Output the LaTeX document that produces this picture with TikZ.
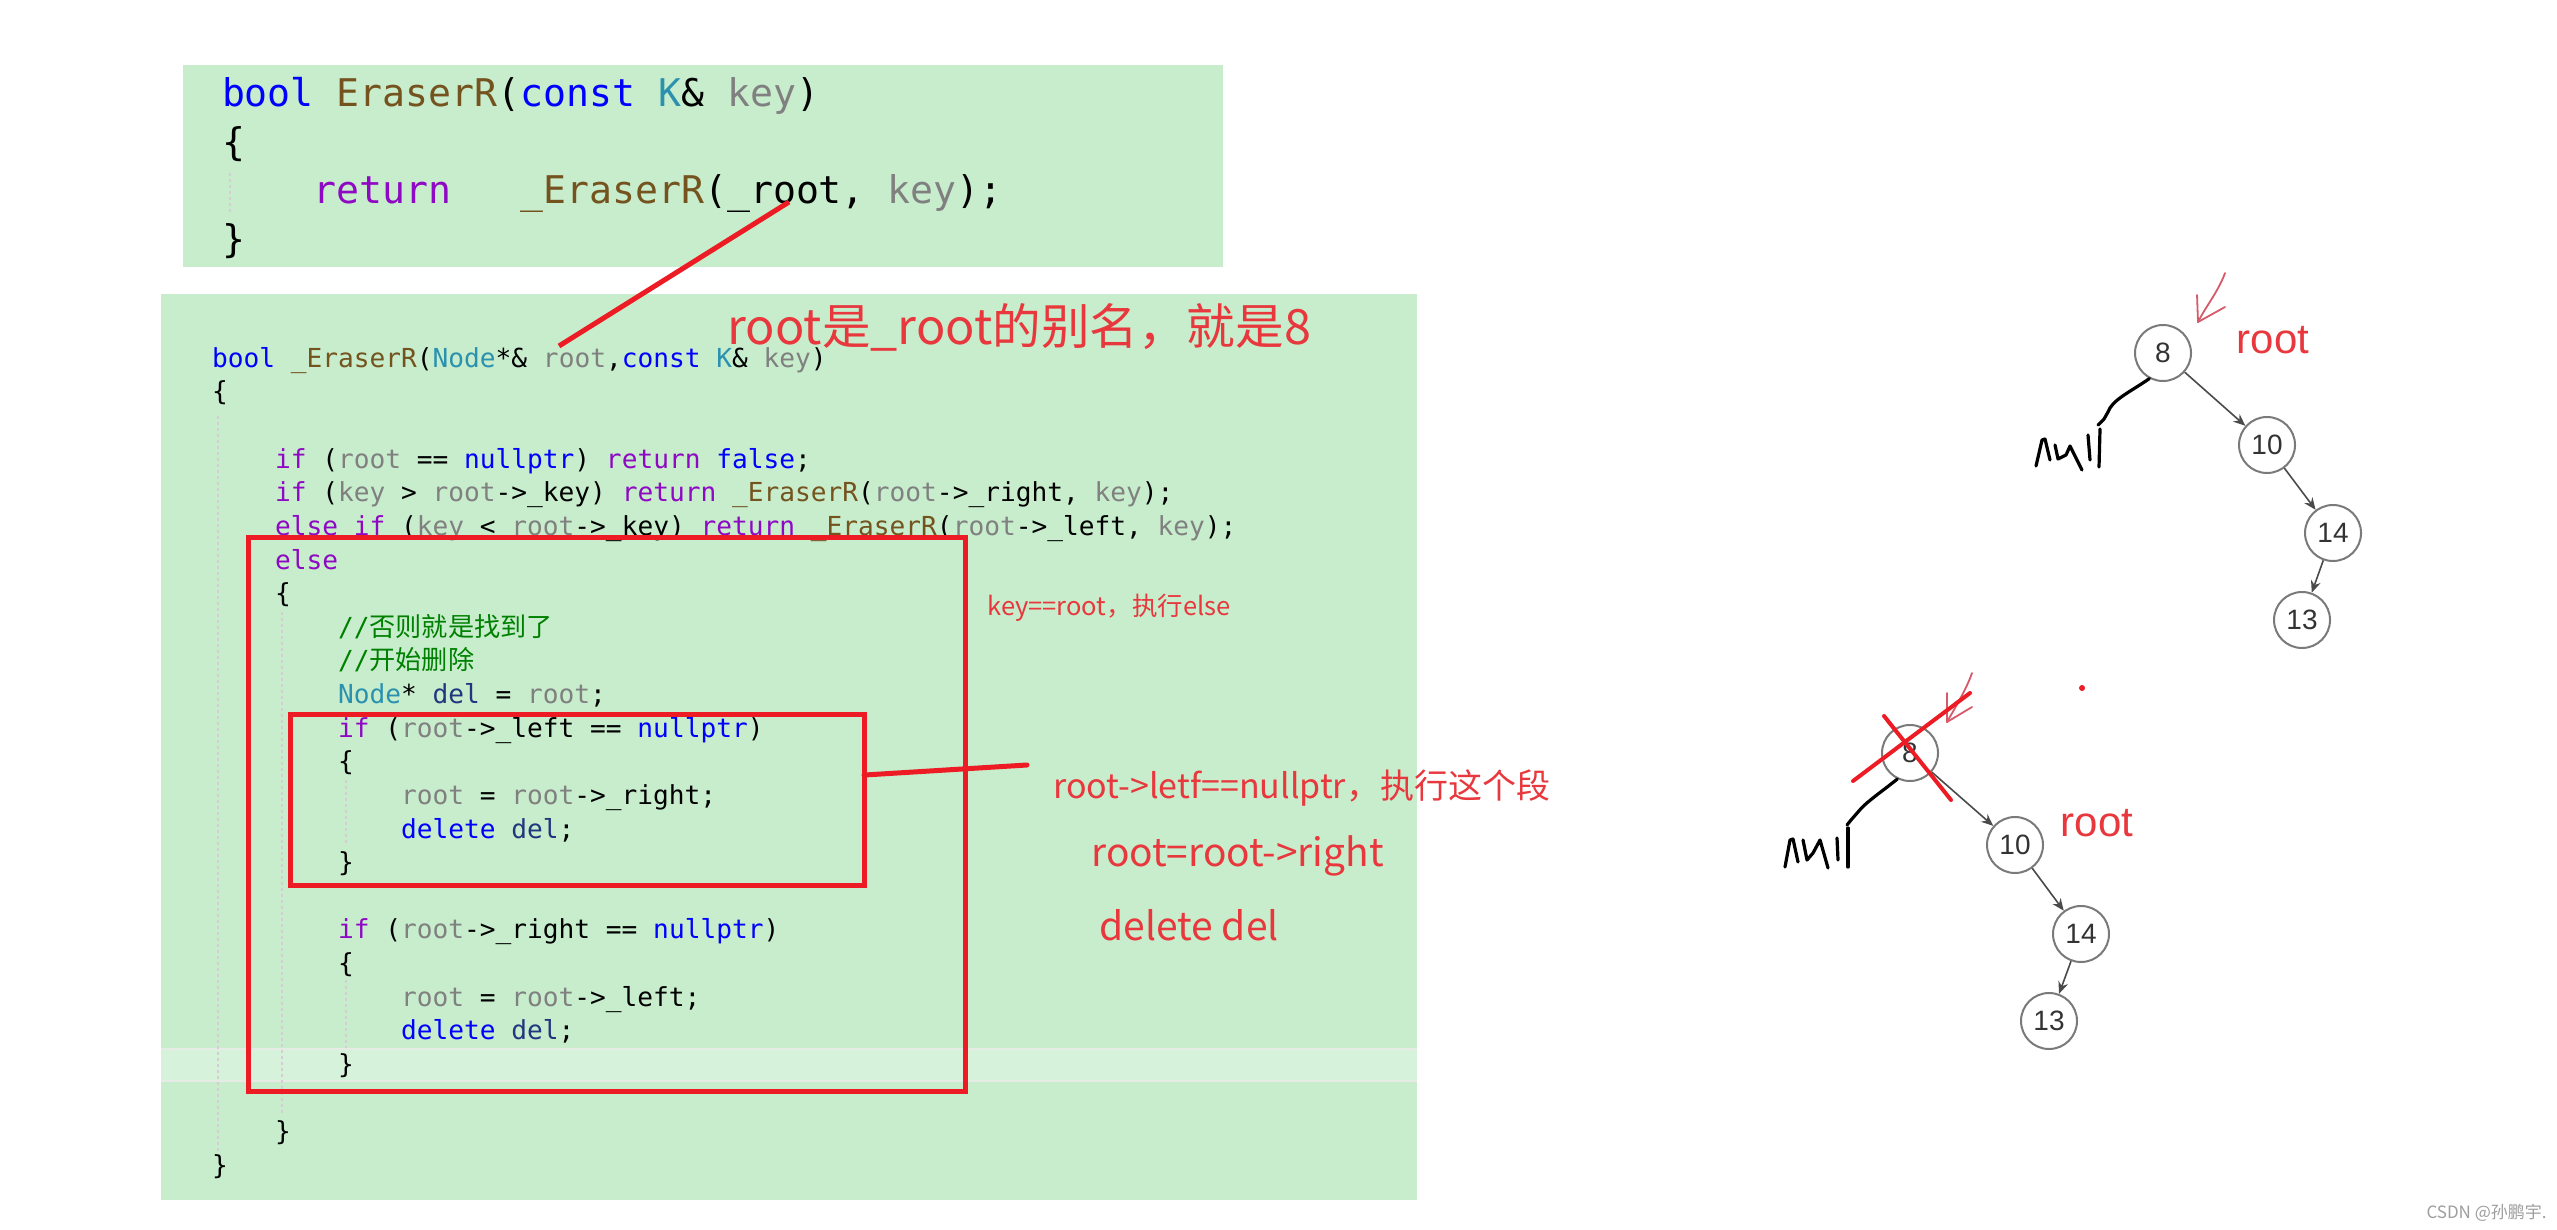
\documentclass[tikz,border=0pt]{standalone}
\usepackage{fontspec}
\usetikzlibrary{arrows.meta,calc}
\newfontfamily\codefont{DejaVu Sans Mono}
\newfontfamily\cjk{Noto Sans CJK SC}
\newfontfamily\tfont{Liberation Sans}
\definecolor{bgG}{HTML}{C7EDCC}
\definecolor{hlG}{HTML}{D6F2DA}
\definecolor{hlB}{HTML}{E6EBE6}
\definecolor{rd}{HTML}{ED1C24}
\definecolor{rtxt}{HTML}{E8383D}
\definecolor{pinkA}{HTML}{D75A6A}
\definecolor{kwB}{HTML}{0000FF}
\definecolor{fnC}{HTML}{74531F}
\definecolor{tyC}{HTML}{2B91AF}
\definecolor{prC}{HTML}{808080}
\definecolor{ctlC}{HTML}{8F08C4}
\definecolor{cmC}{HTML}{008000}
\definecolor{lvC}{HTML}{1F377F}
\definecolor{guideC}{HTML}{D6CCD6}
\definecolor{nodeG}{HTML}{7A7A7A}
\definecolor{numC}{HTML}{333333}
\definecolor{edgeC}{HTML}{4A4A4A}
\newcommand\ckw[1]{\textcolor{kwB}{#1}}
\newcommand\cfn[1]{\textcolor{fnC}{#1}}
\newcommand\cty[1]{\textcolor{tyC}{#1}}
\newcommand\cpr[1]{\textcolor{prC}{#1}}
\newcommand\cct[1]{\textcolor{ctlC}{#1}}
\newcommand\ccm[1]{\textcolor{cmC}{#1}}
\newcommand\clv[1]{\textcolor{lvC}{#1}}
\tikzset{
  codeln/.style={anchor=base west, inner sep=0pt, outer sep=0pt, font=\codefont\fontsize{13.09pt}{15pt}\selectfont},
  topln/.style={anchor=base west, inner sep=0pt, outer sep=0pt, font=\codefont\fontsize{19.07pt}{22pt}\selectfont},
  guide/.style={draw=guideC, line width=0.7pt, dash pattern=on 1.5pt off 1.5pt},
  redbox/.style={draw=rd, line width=2.5pt, inner sep=0pt, outer sep=0pt},
  redline/.style={draw=rd, line width=2.5pt},
  note/.style={anchor=west, inner sep=0pt, text=rtxt},
  tnode/.style={circle, draw=nodeG, line width=1pt, fill=white, minimum size=28pt, inner sep=0pt, font=\tfont\fontsize{14pt}{16pt}\selectfont, text=numC},
  tedge/.style={draw=edgeC, line width=0.8pt, -{Stealth[length=6pt,width=5pt]}},
  hand/.style={draw=black, line width=1.6pt, line cap=round, line join=round},
  pinkarrow/.style={draw=pinkA, line width=0.9pt, line cap=round, line join=round},
  rootlbl/.style={inner sep=0pt, text=rtxt, font=\tfont\fontsize{21pt}{24pt}\selectfont},
}
\begin{document}
\begin{tikzpicture}[x=0.5pt,y=-0.5pt]
\useasboundingbox (0,0) rectangle (2557,1230);
\fill[white] (0,0) rectangle (2557,1230);
% ---------- top code box ----------
\fill[bgG] (183,65) rectangle (1223,267);
\draw[guide] (230,173) -- (230,213);
\node[topln] (t0) at (222,107) {\ckw{bool} \cfn{EraserR}(\ckw{const} \cty{K}\& \cpr{key})};
\node[topln] (t1) at (222,155.4) {\{};
\node[topln] (t2) at (313.8,203.8) {\cct{return}~~~\cfn{\_EraserR}(\_root, \cpr{key});};
\node[topln] (t3) at (222,252.2) {\}};
% ---------- main code box ----------
\fill[bgG] (161,294) rectangle (1417,1200);
\fill[hlG] (161,1049) rectangle (1417,1081);
\draw[hlB, line width=1pt] (161,1049) -- (1417,1049);
\draw[hlB, line width=1pt] (161,1081) -- (1417,1081);
\draw[guide] (218,416) -- (218,1151);
\draw[guide] (282,612) -- (282,1115);
\draw[guide] (346,780) -- (346,846);
\draw[guide] (346,980) -- (346,1048);
\node[codeln] (c0) at (212,367.2) {\ckw{bool} \cfn{\_EraserR}(\cty{Node}*\& \cpr{root},\ckw{const} \cty{K}\& \cpr{key})};
\node[codeln] (c1) at (212,400.8) {\{};
\node[codeln] (c3) at (275,468.1) {\cct{if} (\cpr{root} == \ckw{nullptr}) \cct{return} \ckw{false};};
\node[codeln] (c4) at (275,501.7) {\cct{if} (\cpr{key} > \cpr{root}->\_key) \cct{return} \cfn{\_EraserR}(\cpr{root}->\_right, \cpr{key});};
\node[codeln] (c5) at (275,535.3) {\cct{else if} (\cpr{key} < \cpr{root}->\_key) \cct{return} \cfn{\_EraserR}(\cpr{root}->\_left, \cpr{key});};
\node[codeln] (c6) at (275,569.0) {\cct{else}};
\node[codeln] (c7) at (275,602.6) {\{};
\node[codeln] (c8) at (338,636.2) {\ccm{//{\cjk 否则就是找到了}}};
\node[codeln] (c9) at (338,669.8) {\ccm{//{\cjk 开始删除}}};
\node[codeln] (c10) at (338,703.5) {\cty{Node}* \clv{del} = \cpr{root};};
\node[codeln] (c11) at (338,737.1) {\cct{if} (\cpr{root}->\_left == \ckw{nullptr})};
\node[codeln] (c12) at (338,770.8) {\{};
\node[codeln] (c13) at (401,804.4) {\cpr{root} = \cpr{root}->\_right;};
\node[codeln] (c14) at (401,838.0) {\ckw{delete} \clv{del};};
\node[codeln] (c15) at (338,871.7) {\}};
\node[codeln] (c17) at (338,938.9) {\cct{if} (\cpr{root}->\_right == \ckw{nullptr})};
\node[codeln] (c18) at (338,972.5) {\{};
\node[codeln] (c19) at (401,1006.2) {\cpr{root} = \cpr{root}->\_left;};
\node[codeln] (c20) at (401,1039.8) {\ckw{delete} \clv{del};};
\node[codeln] (c21) at (338,1073.4) {\}};
\node[codeln] (c23) at (275,1140.7) {\}};
\node[codeln] (c24) at (212,1174.3) {\}};
% ---------- red annotations ----------
\node[redbox, minimum width=358.5pt, minimum height=277pt] (outer) at (606.5,814) {};
\node[redbox, minimum width=287pt, minimum height=85.5pt] (inner) at (577,799.5) {};
\coordinate (rootA) at (789,202);
\coordinate (rootB) at (559,346);
\draw[redline] (rootA) -- (rootB);
\coordinate (lineEnd) at (1027,765);
\draw[redline, line cap=round] ($(inner.north east)!0.357!(inner.south east)$) -- (lineEnd);
\node[note, font=\cjk\fontsize{24.3pt}{30pt}\selectfont] (alias) at (727,327) {root是\_root的别名，就是8};
\node[note, font=\cjk\fontsize{12.75pt}{15pt}\selectfont] (keyeq) at (987,608) {key==root，执行else};
\node[note, font=\cjk\fontsize{17.0pt}{20pt}\selectfont] (leftnull) at (1053,788) {root->letf==nullptr，执行这个段};
\node[note, font=\cjk\fontsize{19.4pt}{23pt}\selectfont] (assign) at (1091,856) {root=root->right};
\node[note, font=\cjk\fontsize{19.5pt}{23pt}\selectfont] (deldel) at (1099,925) {delete del};
% ---------- tree 1 ----------
\node[tnode] (a8) at (2163,353) {8};
\node[tnode] (a10) at (2267,445) {10};
\node[tnode] (a14) at (2333,533) {14};
\node[tnode] (a13) at (2302,620) {13};
\draw[tedge] (a8) -- (a10);
\draw[tedge] (a10) -- (a14);
\draw[tedge] (a14) -- (a13);
\node[rootlbl] (aroot) at (2273,340) {root};
\coordinate (aTip) at (2198,322);
\draw[pinkarrow] (2225,273) .. controls (2218,292) and (2206,306) .. (aTip);
\draw[pinkarrow] (2197,295) -- (aTip) -- (2225,307);
\draw[hand] (a8.242) .. controls (2130,392) and (2112,400) .. (2108,412) -- (2104,419) -- (2098,425);
\draw[hand] (2100,429) -- (2099,467);
\draw[hand] (2036,466) -- (2042,440) -- (2045,439) -- (2050,460);
\draw[hand] (2055,445) -- (2058,459) -- (2066,455) -- (2070,446) -- (2082,470);
\draw[hand] (2088,435) -- (2090,460);
% ---------- tree 2 ----------
\node[tnode] (b8) at (1910,753) {8};
\node[tnode] (b10) at (2015,845) {10};
\node[tnode] (b14) at (2081,934) {14};
\node[tnode] (b13) at (2049,1021) {13};
\draw[tedge] (b8) -- (b10);
\draw[tedge] (b10) -- (b14);
\draw[tedge] (b14) -- (b13);
\node[rootlbl] (broot) at (2097,823) {root};
\coordinate (bTip) at (1947,722);
\draw[pinkarrow] (1972,673) .. controls (1966,690) and (1956,706) .. (bTip);
\draw[pinkarrow] (1947,693) -- (bTip) -- (1972,707);
\draw[hand] (b8.244) .. controls (1880,793) and (1866,802) .. (1858,812) -- (1851,820) -- (1847,825);
\draw[hand] (1848,828) -- (1848,867);
\draw[hand] (1785,867) -- (1790,840) -- (1793,839) -- (1798,862);
\draw[hand] (1803,840) -- (1807,860) -- (1813,853) -- (1820,840) -- (1828,868);
\draw[hand] (1837,838) -- (1838,860);
\draw[draw=rd, line width=2pt, line cap=round] (1853,781) -- (1970,693);
\draw[draw=rd, line width=2pt, line cap=round] (1884,716) -- (1951,800);
\fill[rd] (2082,688) circle (3);
% ---------- watermark ----------
\node[anchor=east, inner sep=0pt, text=black!38, font=\cjk\fontsize{8.5pt}{10pt}\selectfont] (wm) at (2547,1213) {CSDN @孙鹏宇.};
\end{tikzpicture}
\end{document}
